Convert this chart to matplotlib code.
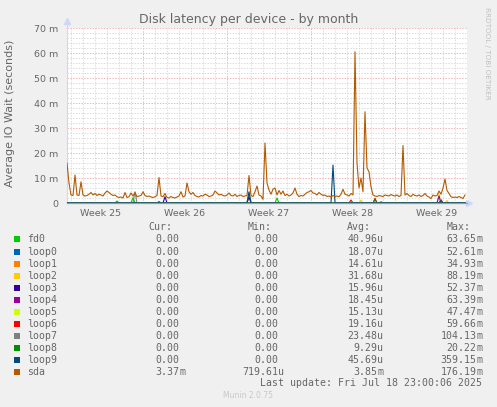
import numpy as np
import matplotlib.pyplot as plt
from matplotlib.patches import Rectangle

# sda latency (ms), one value every 4 hours
sda = [16, 8, 3.2, 3.0, 11.2, 3.2, 3.0, 8.5, 3.2, 2.8,
       3.0, 3.5, 4.2, 3.2, 3.8, 3.0, 3.5, 3.2, 2.8, 4.0,
       4.8, 4.2, 3.5, 3.0, 3.2, 2.5, 2.2, 2.4, 2.0, 4.2,
       2.2, 2.5, 4.0, 2.8, 4.2, 2.5, 2.8, 3.0, 4.5, 3.0,
       2.6, 2.8, 2.4, 2.2, 2.5, 3.0, 10.2, 2.8, 2.5, 3.8,
       2.2, 2.0, 2.6, 2.2, 2.0, 2.4, 2.8, 4.5, 2.4, 2.8,
       8.0, 4.5, 3.5, 4.2, 3.0, 2.6, 2.4, 3.0, 2.8, 3.5,
       3.2, 2.6, 2.8, 3.2, 4.8, 4.0, 3.2, 3.5, 3.0, 2.8,
       3.2, 4.0, 3.0, 2.8, 3.5, 2.6, 3.0, 3.2, 2.6, 2.8,
       3.0, 11.0, 3.0, 2.6, 4.5, 6.8, 3.2, 2.8, 1.5, 24.0,
       8.0, 5.2, 3.5, 5.5, 6.0, 3.2, 5.0, 3.5, 4.8, 3.0,
       3.5, 2.8, 3.2, 4.0, 6.0, 3.5, 2.6, 3.0, 2.8, 3.5,
       4.2, 4.5, 5.0, 4.0, 3.8, 3.2, 4.2, 3.5, 3.0, 3.2,
       2.6, 2.8, 2.4, 3.0, 2.6, 2.8, 2.5, 3.5, 5.5, 3.5,
       3.2, 2.8, 3.8, 3.2, 60.5, 16.0, 6.0, 10.0, 4.5, 36.5,
       14.0, 12.5, 6.5, 3.2, 2.8, 2.6, 3.0, 2.8, 2.6, 3.2,
       3.0, 2.8, 3.4, 3.0, 2.8, 3.2, 2.6, 3.0, 23.0, 3.2,
       3.8, 3.0, 2.6, 3.5, 3.0, 2.8, 3.2, 2.6, 3.0, 3.8,
       2.8, 2.4, 1.8, 3.2, 2.8, 3.0, 4.8, 3.5, 6.0, 9.6,
       5.0, 3.8, 2.5, 2.2, 2.4, 2.2, 2.6, 2.2, 1.8, 3.2]

# other devices are zero except a few short blips: (sample index, ms)
fd0 = [(25, 0.8), (33, 2.1), (91, 4.0), (105, 2.0)]
loop0 = [(46, 0.6), (157, 0.5), (187, 0.6)]
loop1 = []
loop2 = [(91, 3.0), (147, 1.2), (186, 3.6), (190, 1.0)]
loop3 = [(49, 2.5), (91, 2.5)]
loop4 = [(186, 2.8)]
loop5 = []
loop6 = [(142, 1.2), (154, 1.9)]
loop7 = [(34, 4.5), (187, 1.5)]
loop8 = [(154, 1.5)]
loop9 = [(91, 4.5), (133, 15.2), (187, 1.0)]

names = ['fd0', 'loop0', 'loop1', 'loop2', 'loop3', 'loop4',
         'loop5', 'loop6', 'loop7', 'loop8', 'loop9', 'sda']
colors = ['#00CC00', '#0066B3', '#FF8000', '#FFCC00', '#330099', '#990099',
          '#CCFF00', '#FF0000', '#808080', '#008F00', '#00487D', '#B35A00']
cur = ['0.00'] * 11 + ['3.37m']
mins = ['0.00'] * 11 + ['719.61u']
avgs = ['40.96u', '18.07u', '14.61u', '31.68u', '15.96u', '18.45u',
        '15.13u', '19.16u', '23.48u', '9.29u', '45.69u', '3.85m']
maxs = ['63.65m', '52.61m', '34.93m', '88.19m', '52.37m', '63.39m',
        '47.47m', '59.66m', '104.13m', '20.22m', '359.15m', '176.19m']
weeks = ['Week 25', 'Week 26', 'Week 27', 'Week 28', 'Week 29']
yticks = [0, 10, 20, 30, 40, 50, 60, 70]

W, H = 497, 407
FONT = '#666666'

n = len(sda)
days = np.arange(n) / 6.0
series = []
for spikes in [fd0, loop0, loop1, loop2, loop3, loop4, loop5, loop6, loop7, loop8, loop9]:
    s = np.zeros(n)
    for i, v in spikes:
        s[i] = v
    series.append(s)
series.append(np.array(sda))

fig = plt.figure(figsize=(W / 100, H / 100), dpi=100, facecolor='#F0F0F0')
ax = fig.add_axes([67 / W, 1 - 203 / H, 400 / W, 175 / H])
ax.set_facecolor('white')
ax.set_xlim(0, 400 / 12)
ax.set_ylim(0, 70)

# grid: daily / 2m minor, weekly / 10m major
dots = (0, (1.4, 1.4))
for d in np.arange(1 / 3, 33.4, 1):
    major = abs(((d - 19 / 3) / 7) - round((d - 19 / 3) / 7)) < 1e-6
    ax.axvline(d, color='#f2b4b4' if major else '#dcdcdc', lw=0.72,
               ls=dots, zorder=1)
for v in range(2, 71, 2):
    ax.axhline(v, color='#f2b4b4' if v % 10 == 0 else '#dcdcdc', lw=0.72,
               ls=dots, zorder=1)

for s, c in zip(series, colors):
    ax.plot(days, s, color=c, lw=0.8, zorder=3)

for sp in ['top', 'right']:
    ax.spines[sp].set_visible(False)
ax.spines['left'].set_color('#CFD6F8')
ax.spines['left'].set_linewidth(0.8)
ax.spines['bottom'].set_color('#8c9cc4')
ax.spines['bottom'].set_linewidth(0.9)
ax.spines['bottom'].set_zorder(4)
ax.plot([0, 0], [70, 72.5], color='#CFD6F8', lw=0.8, clip_on=False)
ax.plot([0], [72.8], marker='^', color='#CFD6F8', ms=4, clip_on=False)
ax.plot([400 / 12, 400 / 12 + 0.15], [0, 0], color='#CFD6F8', lw=0.8, clip_on=False)
ax.plot([400 / 12 + 0.2], [0], marker='>', color='#CFD6F8', ms=4, clip_on=False)

ax.set_yticks(yticks)
ax.set_yticklabels(['0' if v == 0 else f'{v} m' for v in yticks])
ax.set_xticks([17 / 6 + 7 * k for k in range(len(weeks))])
ax.set_xticklabels(weeks)
ax.tick_params(length=0, labelsize=6.8, labelcolor=FONT)
ax.tick_params(axis='y', pad=6)
ax.tick_params(axis='x', pad=4)

fig.text(248.5 / W, 1 - 19 / H, 'Disk latency per device - by month',
         ha='center', va='center', fontsize=9, color=FONT)
fig.text(10 / W, 1 - 113 / H, 'Average IO Wait (seconds)', rotation=90,
         ha='center', va='center', fontsize=8, color=FONT)
fig.text(487 / W, 1 - 53 / H, 'RRDTOOL / TOBI OETIKER', rotation=-90,
         ha='center', va='center', fontsize=5.2, color='#c0c0c0')

# legend table
mono = dict(family='DejaVu Sans Mono', fontsize=7.1, color=FONT, va='center')
col_right = [179, 278.3, 377.3, 476.7]
for x, h in zip(col_right, ['Cur:', 'Min:', 'Avg:', 'Max:']):
    fig.text((x - 6.5) / W, 1 - 227.3 / H, h, ha='right', **mono)


def cell(x, y, txt):
    if txt[-1].isalpha():
        num, unit = txt[:-1], txt[-1]
    else:
        num, unit = txt, ''
    fig.text(x / W, 1 - y / H, num, ha='right', **mono)
    if unit:
        fig.text(x / W, 1 - y / H, unit, ha='left', **mono)


for k, name in enumerate(names):
    y = 239.5 + 12.03 * k
    fig.add_artist(Rectangle((14 / W, 1 - (y + 3) / H), 6 / W, 6 / H,
                             transform=fig.transFigure, color=colors[k], lw=0))
    fig.text(26.7 / W, 1 - y / H, name, ha='left', **mono)
    for x, vals in zip(col_right, [cur, mins, avgs, maxs]):
        cell(x, y, vals[k])

fig.text(482.5 / W, 1 - 383.5 / H, 'Last update: Fri Jul 18 23:00:06 2025',
         ha='right', **mono)
fig.text(248 / W, 1 - 396 / H, 'Munin 2.0.75', ha='center', va='center',
         fontsize=5.5, color='#c8c8c8')

fig.savefig('out.png', dpi=100, facecolor=fig.get_facecolor())
